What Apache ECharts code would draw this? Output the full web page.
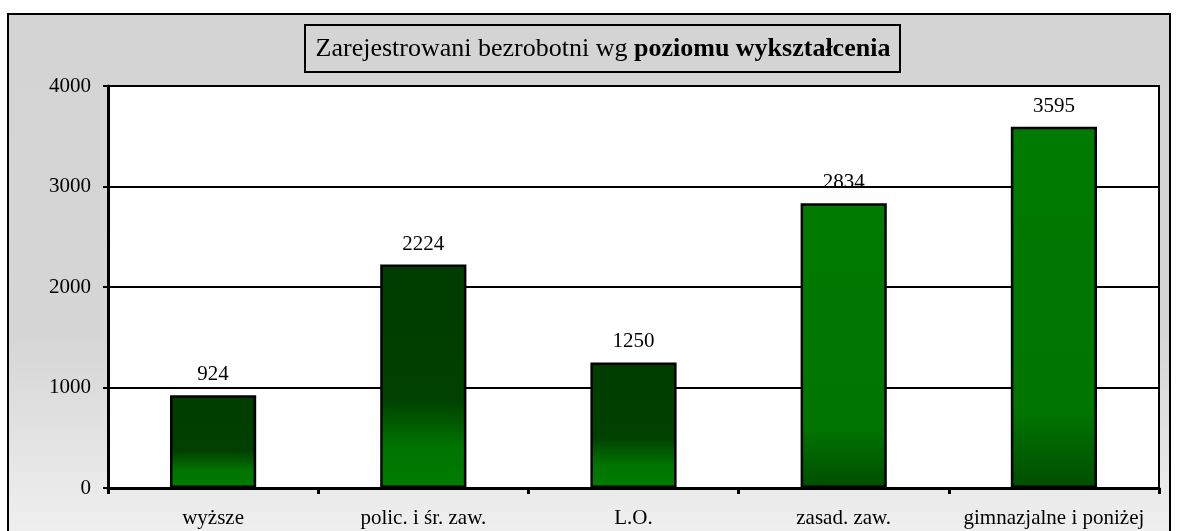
<!DOCTYPE html>
<html>
<head>
<meta charset="utf-8">
<script src="https://cdn.jsdelivr.net/npm/echarts@6/dist/echarts.min.js"></script>
<style>
  html, body { margin: 0; padding: 0; background: #fff; }
  #chart { width: 1178px; height: 531px; }
</style>
</head>
<body>
<div id="chart"></div>
<script>
var categories = ['wyższe', 'polic. i śr. zaw.', 'L.O.', 'zasad. zaw.', 'gimnazjalne i poniżej'];
var values = [924, 2224, 1250, 2834, 3595];
// which bars are dark-top (true) and which are bright-top (false)
var darkTop = [true, true, true, false, false];

var chartDom = document.getElementById('chart');
var myChart = echarts.init(chartDom, null, { renderer: 'canvas' });
var serif = '"Liberation Serif", "Times New Roman", serif';

function barColor(dark) {
  if (dark) {
    return new echarts.graphic.LinearGradient(0, 0, 0, 1, [
      { offset: 0, color: '#003d00' },
      { offset: 0.6, color: '#004000' },
      { offset: 0.82, color: '#007500' },
      { offset: 1, color: '#007c00' }
    ]);
  }
  return new echarts.graphic.LinearGradient(0, 0, 0, 1, [
    { offset: 0, color: '#007a00' },
    { offset: 0.78, color: '#007600' },
    { offset: 1, color: '#004e00' }
  ]);
}

var seriesData = values.map(function (v, i) {
  return { value: v, itemStyle: { color: barColor(darkTop[i]) } };
});

var option = {
  animation: false,
  backgroundColor: '#ffffff',
  graphic: [
    {
      type: 'rect',
      z: -10,
      shape: { x: 8, y: 14, width: 1162, height: 540 },
      style: {
        fill: new echarts.graphic.LinearGradient(0, 0, 0, 1, [
          { offset: 0, color: '#d4d4d4' },
          { offset: 0.6, color: '#d6d6d6' },
          { offset: 1, color: '#f2f2f2' }
        ]),
        stroke: '#000',
        lineWidth: 2
      }
    },
    {
      type: 'rect',
      z: 10,
      shape: { x: 305, y: 25, width: 595, height: 47 },
      style: { fill: '#d4d4d4', stroke: '#000', lineWidth: 2 }
    },
    {
      type: 'text',
      z: 11,
      x: 603,
      y: 49,
      style: {
        text: '{n|Zarejestrowani bezrobotni wg }{b|poziomu wykształcenia}',
        align: 'center',
        verticalAlign: 'middle',
        rich: {
          n: { fontFamily: serif, fontSize: 26, fill: '#000' },
          b: { fontFamily: serif, fontSize: 26, fontWeight: 'bold', fill: '#000' }
        }
      }
    }
  ],
  grid: {
    left: 108,
    right: 19,
    top: 86,
    bottom: 43,
    show: true,
    backgroundColor: '#ffffff',
    borderColor: '#000',
    borderWidth: 2
  },
  xAxis: {
    type: 'category',
    data: categories,
    boundaryGap: true,
    axisLine: { lineStyle: { color: '#000', width: 3 } },
    axisTick: { show: true, length: 6, lineStyle: { color: '#000', width: 3 } },
    axisLabel: { color: '#000', fontFamily: serif, fontSize: 21, margin: 20, interval: 0 }
  },
  yAxis: {
    type: 'value',
    min: 0,
    max: 4000,
    interval: 1000,
    axisLine: { show: true, lineStyle: { color: '#000', width: 3 } },
    axisTick: { show: true, length: 5, lineStyle: { color: '#000', width: 2 } },
    axisLabel: {
      color: '#000', fontFamily: serif, fontSize: 21, margin: 17,
      formatter: function (v) { return String(v); }
    },
    splitLine: { lineStyle: { color: '#000', width: 2 } }
  },
  series: [
    {
      type: 'bar',
      data: seriesData,
      barWidth: '41%',
      itemStyle: { borderColor: '#000', borderWidth: 2.5 },
      label: {
        show: true,
        position: 'top',
        distance: 10,
        color: '#000',
        fontFamily: serif,
        fontSize: 21
      }
    }
  ]
};

myChart.setOption(option);
window.onresize = function () { myChart.resize(); };
</script>
</body>
</html>
